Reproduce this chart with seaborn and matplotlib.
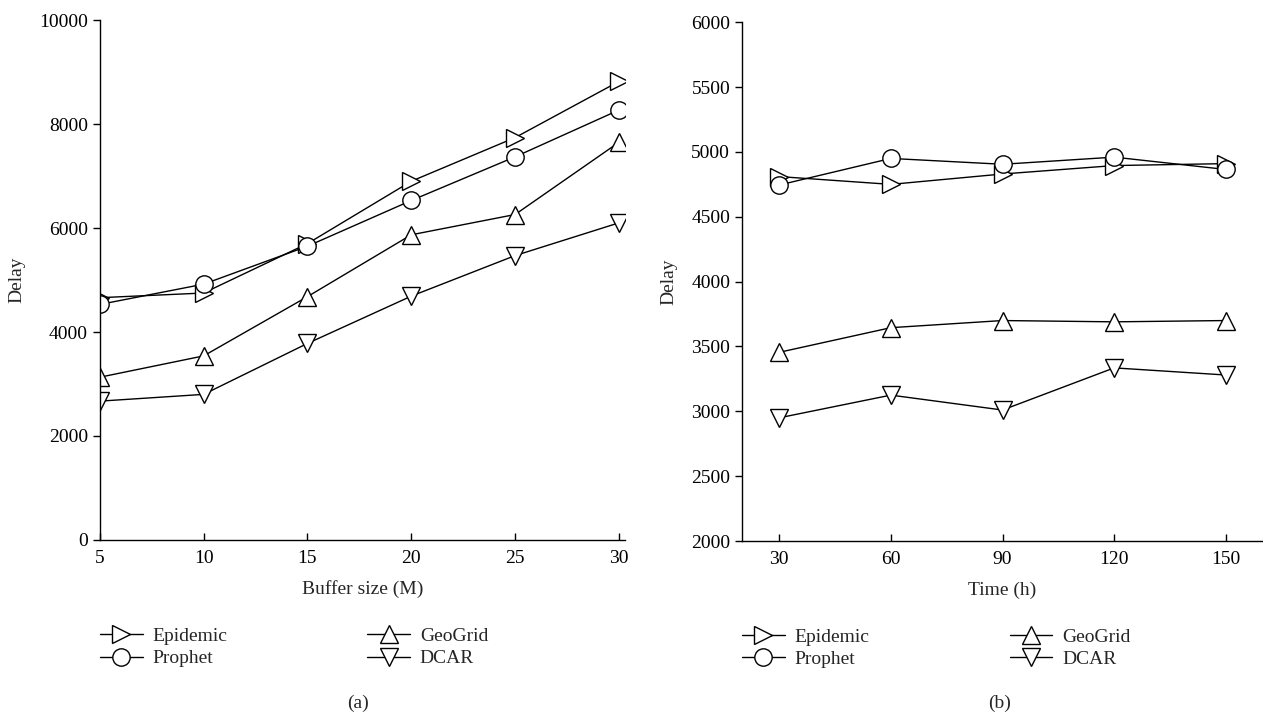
import numpy as np
import pandas as pd
import matplotlib
matplotlib.use("Agg")
import matplotlib.pyplot as plt
import seaborn as sns

sns.set_theme(style="white")
plt.rcParams["font.family"] = ["Liberation Serif", "DejaVu Serif"]
plt.rcParams["font.size"] = 14

# Data
methods = ["Epidemic", "Prophet", "GeoGrid", "DCAR"]
markers = {"Epidemic": ">", "Prophet": "o", "GeoGrid": "^", "DCAR": "v"}

buffer_sizes = [5, 10, 15, 20, 25, 30]
buf_epidemic = [4660, 4750, 5700, 6900, 7740, 8820]
buf_prophet = [4530, 4920, 5650, 6530, 7370, 8270]
buf_geogrid = [3130, 3540, 4680, 5870, 6260, 7650]
buf_dcar = [2670, 2800, 3780, 4690, 5470, 6100]

times = [30, 60, 90, 120, 150]
time_epidemic = [4810, 4750, 4830, 4895, 4910]
time_prophet = [4745, 4950, 4905, 4960, 4865]
time_geogrid = [3455, 3645, 3700, 3690, 3700]
time_dcar = [2950, 3125, 3010, 3335, 3280]


def to_long(x, series, xname):
    rows = []
    for name, vals in zip(methods, series):
        for xv, yv in zip(x, vals):
            rows.append({xname: xv, "Delay": yv, "method": name})
    return pd.DataFrame(rows)


df_buf = to_long(buffer_sizes, [buf_epidemic, buf_prophet, buf_geogrid, buf_dcar], "buffer")
df_time = to_long(times, [time_epidemic, time_prophet, time_geogrid, time_dcar], "time")

fig = plt.figure(figsize=(12.63, 7.18), dpi=100)
ax1 = fig.add_axes([0.079, 0.248, 0.416, 0.724])
ax2 = fig.add_axes([0.5875, 0.2465, 0.4125, 0.7225])


def draw(ax, df, xname):
    for name in methods:
        sub = df[df["method"] == name]
        sns.lineplot(
            data=sub, x=xname, y="Delay", ax=ax,
            color="black", linewidth=1.0,
            marker=markers[name], markersize=12.5,
            markerfacecolor="white", markeredgecolor="black", markeredgewidth=1.0,
            label=name, legend=False,
        )
    for side in ["top", "right"]:
        ax.spines[side].set_visible(False)
    for side in ["left", "bottom"]:
        ax.spines[side].set_color("black")
        ax.spines[side].set_linewidth(1.0)
    ax.tick_params(axis="x", direction="in", length=5, width=1, colors="black",
                   labelsize=14, pad=7, bottom=True)
    ax.tick_params(axis="y", direction="out", length=5, width=1, colors="black",
                   labelsize=14, left=True)
    ax.set_ylabel("Delay", fontsize=14, labelpad=10)
    ax.grid(False)
    handles, labels = ax.get_legend_handles_labels()
    ax.legend(handles, labels, ncol=2, loc="upper left", bbox_to_anchor=(0.0, -0.168),
              frameon=False, fontsize=14, columnspacing=7.2, handlelength=2.2,
              borderpad=0, borderaxespad=0, labelspacing=0.25, handletextpad=0.5)


draw(ax1, df_buf, "buffer")
ax1.set_xlim(5, 30.3)
ax1.set_ylim(0, 10000)
ax1.set_xticks(buffer_sizes)
ax1.set_yticks([0, 2000, 4000, 6000, 8000, 10000])
ax1.set_xlabel("Buffer size (M)", fontsize=14, labelpad=10)

draw(ax2, df_time, "time")
ax2.set_xlim(20, 160)
ax2.set_ylim(2000, 6000)
ax2.set_xticks(times)
ax2.set_yticks(np.arange(2000, 6001, 500))
ax2.set_xlabel("Time (h)", fontsize=14, labelpad=10)

fig.text(358 / 1263, 1 - 703 / 718, "(a)", ha="center", va="center", fontsize=14)
fig.text(1000 / 1263, 1 - 703 / 718, "(b)", ha="center", va="center", fontsize=14)

fig.savefig("out.png", dpi=100)
